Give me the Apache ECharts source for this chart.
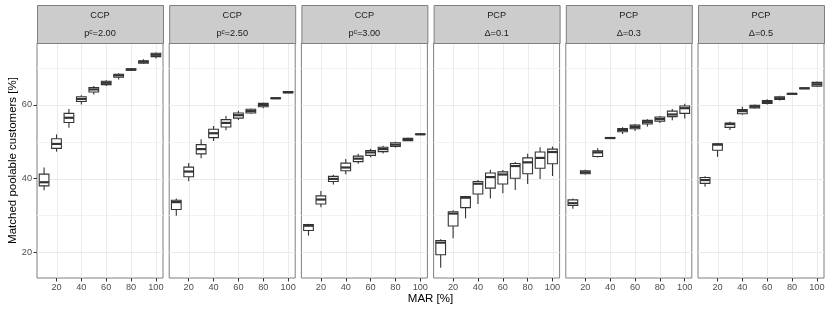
<!DOCTYPE html>
<html><head><meta charset="utf-8">
<script src="https://cdn.jsdelivr.net/npm/echarts@6/dist/echarts.min.js"></script>
<style>html,body{margin:0;padding:0;background:#fff}#c{width:830px;height:312px}</style>
</head><body><div id="c"></div>
<script>
// ---- data ----
const mar = [10, 20, 30, 40, 50, 60, 70, 80, 90, 100];
const stripTop = ['CCP', 'CCP', 'CCP', 'PCP', 'PCP', 'PCP'];
const stripBottom = ['p{sup|c}=2.00', 'p{sup|c}=2.50', 'p{sup|c}=3.00', '\u0394=0.1', '\u0394=0.3', '\u0394=0.5'];
// each entry: [lower whisker, Q1, median, Q3, upper whisker]
const ccp200 = [[36.8,38.0,39.0,41.2,43.0],[47.3,48.2,49.4,50.8,52.0],[53.8,55.2,56.5,57.7,58.9],[60.1,60.9,61.6,62.2,62.6],[62.8,63.5,64.2,64.7,65.1],[65.1,65.5,66.0,66.4,66.7],[66.9,67.5,68.0,68.3,68.6],[69.2,69.4,69.6,69.8,69.9],[71.1,71.3,71.7,72.0,72.4],[72.6,73.1,73.6,74.0,74.2]];
const ccp250 = [[29.9,31.6,33.6,34.1,34.6],[39.3,40.5,41.9,43.1,44.2],[45.5,46.7,48.0,49.2,50.7],[50.2,51.1,52.3,53.4,54.3],[53.1,54.0,55.1,56.0,57.0],[55.9,56.4,57.2,57.8,58.4],[57.6,57.8,58.3,58.8,59.0],[59.1,59.5,60.0,60.4,60.6],[61.6,61.7,61.8,61.9,62.0],[63.2,63.3,63.4,63.6,63.7]];
const ccp300 = [[24.5,25.9,27.2,27.5,27.7],[32.2,33.1,34.3,35.3,36.6],[38.4,39.2,39.9,40.6,41.0],[41.2,42.1,43.0,44.2,45.3],[44.0,44.6,45.4,46.1,46.7],[45.8,46.3,47.1,47.6,48.1],[46.8,47.3,48.0,48.5,48.9],[48.4,48.7,49.2,49.7,50.0],[50.2,50.3,50.6,50.9,51.1],[51.9,52.0,52.0,52.1,52.2]];
const pcp01 = [[15.8,19.3,22.6,23.2,23.5],[23.8,27.1,30.5,31.0,31.4],[29.2,32.1,34.8,35.1,35.3],[33.1,35.8,38.6,39.2,39.6],[34.6,37.4,40.4,41.5,42.4],[36.0,38.5,41.1,41.8,42.3],[36.9,40.1,43.4,44.1,44.5],[38.5,41.3,44.4,45.6,46.7],[39.9,42.8,45.6,47.2,48.5],[40.7,44.0,47.2,48.0,48.7]];
const pcp03 = [[31.8,32.7,33.3,34.2,34.6],[41.1,41.3,41.7,42.1,42.4],[45.7,46.0,47.1,47.5,48.2],[50.8,50.9,51.0,51.1,51.2],[52.1,52.7,53.2,53.6,53.9],[52.9,53.5,54.0,54.5,54.8],[54.1,54.8,55.3,55.8,56.1],[55.1,55.6,56.2,56.7,57.0],[55.8,56.8,57.4,58.3,58.9],[56.3,57.7,59.1,59.7,60.3]];
const pcp05 = [[37.8,38.7,39.6,40.3,40.6],[45.9,47.7,49.2,49.4,49.6],[53.2,53.9,54.8,55.1,55.4],[57.3,57.6,58.3,58.7,59.5],[59.0,59.2,59.6,59.9,60.1],[60.1,60.4,60.8,61.2,61.5],[61.2,61.5,61.8,62.2,62.5],[62.8,62.9,63.0,63.1,63.2],[64.3,64.4,64.5,64.6,64.7],[64.9,65.1,65.6,66.1,66.3]];
const xTicks = [20, 40, 60, 80, 100];
const yTicks = [20, 40, 60];
const yMinorTicks = [30, 50, 70];
const xTitle = 'MAR [%]';
const yTitle = 'Matched poolable customers [%]';

// ---- layout / style ----
const panels = [ccp200, ccp250, ccp300, pcp01, pcp03, pcp05];
const X_MIN = 4.3, X_MAX = 105.7, Y_MIN = 13.0, Y_MAX = 76.8;
const PANEL_W = 126, PANEL_TOP = 43, PANEL_H = 235, STRIP_TOP = 5;
const FONT = 'Liberation Sans, Arial, sans-serif';
const BOX_W = 7.8;
const lefts = panels.map((_, i) => 37 + i * 132.2);

const chart = echarts.init(document.getElementById('c'), null, {renderer: 'canvas'});

function gridRender(params, api) {
  const cs = params.coordSys;
  const kind = api.value(0), v = api.value(1);
  if (kind === 2) {
    const x = Math.round(api.coord([v, Y_MIN])[0]) + 0.5;
    return {type: 'line', silent: true, shape: {x1: x, y1: cs.y, x2: x, y2: cs.y + cs.height},
      style: {stroke: '#ebebeb', lineWidth: 1}};
  }
  const y = Math.round(api.coord([X_MIN, v])[1]) + 0.5;
  return {type: 'line', silent: true, shape: {x1: cs.x, y1: y, x2: cs.x + cs.width, y2: y},
    style: {stroke: kind === 0 ? '#ebebeb' : '#f3f3f3', lineWidth: 1}};
}

function boxRender(params, api) {
  const x = api.value(0);
  const pLo = api.coord([x, api.value(1)]);
  const pQ1 = api.coord([x, api.value(2)]);
  const pMed = api.coord([x, api.value(3)]);
  const pQ3 = api.coord([x, api.value(4)]);
  const pHi = api.coord([x, api.value(5)]);
  const w = api.size([BOX_W, 0])[0];
  const cx = pMed[0];
  const st = {stroke: '#333333', lineWidth: 1.1};
  return {type: 'group', children: [
    {type: 'line', shape: {x1: cx, y1: pHi[1], x2: cx, y2: pQ3[1]}, style: st},
    {type: 'line', shape: {x1: cx, y1: pQ1[1], x2: cx, y2: pLo[1]}, style: st},
    {type: 'rect', shape: {x: cx - w / 2, y: pQ3[1], width: w, height: pQ1[1] - pQ3[1]},
      style: {fill: '#ffffff', stroke: '#333333', lineWidth: 1.1}},
    {type: 'line', shape: {x1: cx - w / 2, y1: pMed[1], x2: cx + w / 2, y2: pMed[1]},
      style: {stroke: '#333333', lineWidth: 2.2}}
  ]};
}

const gridLineData = [].concat(
  yTicks.map(v => [0, v]), yMinorTicks.map(v => [1, v]), xTicks.map(v => [2, v]));

const grids = [], xAxes = [], yAxes = [], series = [], graphics = [];
panels.forEach((pd, i) => {
  grids.push({left: lefts[i], top: PANEL_TOP, width: PANEL_W, height: PANEL_H,
    show: true, borderColor: '#7f7f7f', borderWidth: 1, backgroundColor: '#fff', containLabel: false});
  xAxes.push({gridIndex: i, type: 'value', min: X_MIN, max: X_MAX,
    axisLine: {show: false}, splitLine: {show: false},
    axisTick: {show: true, customValues: xTicks, length: 3.5, lineStyle: {color: '#333333', width: 1}},
    axisLabel: {customValues: xTicks, margin: 5, fontSize: 9.2, color: '#4d4d4d', fontFamily: FONT}});
  yAxes.push({gridIndex: i, type: 'value', min: Y_MIN, max: Y_MAX,
    axisLine: {show: false}, splitLine: {show: false},
    axisTick: {show: i === 0, customValues: yTicks, length: 3.5, lineStyle: {color: '#333333', width: 1}},
    axisLabel: {show: i === 0, customValues: yTicks, margin: 5, fontSize: 9.2, color: '#4d4d4d', fontFamily: FONT}});
  series.push({type: 'custom', xAxisIndex: i, yAxisIndex: i, z: 1, silent: true,
    renderItem: gridRender, data: gridLineData, encode: {x: 0, y: 1}});
  series.push({type: 'custom', xAxisIndex: i, yAxisIndex: i, z: 3, silent: true,
    renderItem: boxRender, encode: {x: 0, y: [1, 2, 3, 4, 5]},
    data: mar.map((m, k) => [m].concat(pd[k]))});
  // strip
  graphics.push({type: 'rect', left: lefts[i], top: STRIP_TOP,
    shape: {x: 0, y: 0, width: PANEL_W, height: PANEL_TOP - STRIP_TOP},
    style: {fill: '#cccccc', stroke: '#7f7f7f', lineWidth: 1}, z: 10});
  graphics.push({type: 'text', x: lefts[i] + PANEL_W / 2, y: 15, z: 11,
    style: {text: stripTop[i], fill: '#1a1a1a', fontSize: 9.2, fontFamily: FONT,
      textAlign: 'center', textVerticalAlign: 'middle'}});
  graphics.push({type: 'text', x: lefts[i] + PANEL_W / 2, y: 33, z: 11,
    style: {text: stripBottom[i], fill: '#1a1a1a', fontSize: 9.2, fontFamily: FONT,
      textAlign: 'center', textVerticalAlign: 'middle',
      rich: {sup: {fontSize: 6.5, fontFamily: FONT, fill: '#1a1a1a', verticalAlign: 'top', lineHeight: 8}}}});
});

graphics.push({type: 'text', x: 430.5, y: 299, z: 11,
  style: {text: xTitle, fill: '#000', fontSize: 11.5, fontFamily: FONT, textAlign: 'center', textVerticalAlign: 'middle'}});
graphics.push({type: 'text', x: 13, y: 160.5, rotation: Math.PI / 2, z: 11,
  style: {text: yTitle, fill: '#000', fontSize: 11.5, fontFamily: FONT, textAlign: 'center', textVerticalAlign: 'middle'}});

chart.setOption({
  animation: false,
  backgroundColor: '#ffffff',
  grid: grids, xAxis: xAxes, yAxis: yAxes, series: series, graphic: graphics
});
</script></body></html>
